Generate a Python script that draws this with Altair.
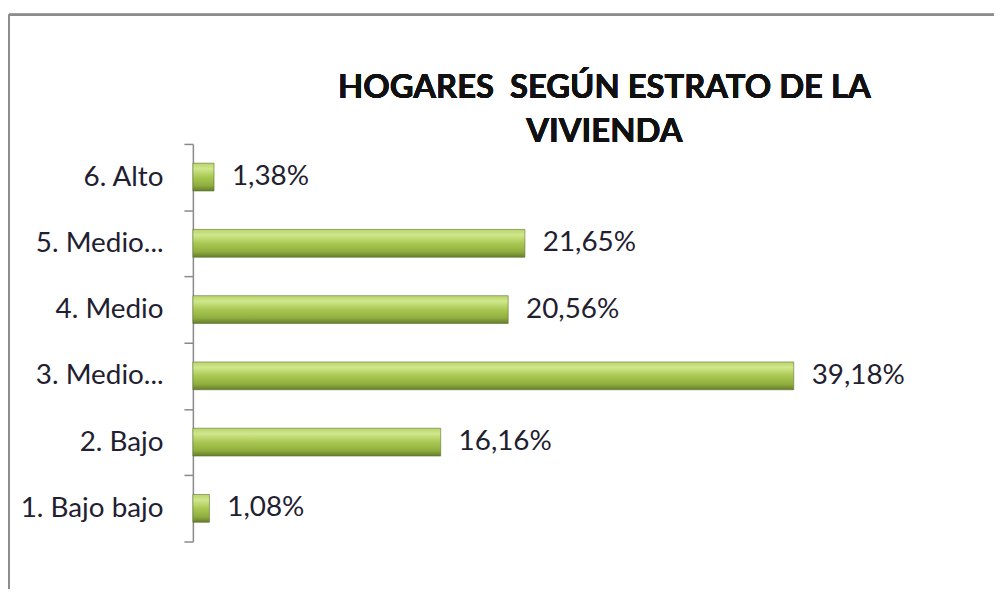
import altair as alt
import pandas as pd

categories = ["6. Alto", "5. Medio alto", "4. Medio", "3. Medio bajo", "2. Bajo", "1. Bajo bajo"]
values = [1.38, 21.65, 20.56, 39.18, 16.16, 1.08]
title_lines = ["HOGARES\u00a0 SEGÚN ESTRATO DE LA", "VIVIENDA"]

df = pd.DataFrame({
    "estrato": categories,
    "pct": values,
    "label": [f"{v:.2f}".replace(".", ",") + "%" for v in values],
})

FONT = "Lato"
W, H = 790, 400

green = alt.Gradient(
    gradient="linear", x1=0, y1=0, x2=0, y2=1,
    stops=[
        alt.GradientStop(color="#b9d46a", offset=0),
        alt.GradientStop(color="#d0e78c", offset=0.2),
        alt.GradientStop(color="#a9c852", offset=0.5),
        alt.GradientStop(color="#8fae3e", offset=0.8),
        alt.GradientStop(color="#647c2c", offset=1),
    ],
)

y_enc = alt.Y(
    "estrato:N", sort=categories, title=None,
    scale=alt.Scale(paddingInner=0, paddingOuter=0),
    axis=alt.Axis(
        domainColor="#8a8a8a", domainWidth=1.5, tickColor="#8a8a8a", tickWidth=1.5,
        tickSize=9, tickBand="extent", labelPadding=21, labelFont=FONT,
        labelFontSize=28, labelColor="#1f2030", labelLimit=300,
        labelExpr="indexof(datum.label, 'Medio ') >= 0 ? replace(datum.label, / \\w+$/, '...') : datum.label",
    ),
)
x_enc = alt.X("pct:Q", title=None, scale=alt.Scale(domain=[0, 51.2], nice=False), axis=None)

bars = alt.Chart(df).mark_bar(
    fill=green, stroke="#5e7330", strokeWidth=0.6, height=alt.RelativeBandSize(0.42)
).encode(y=y_enc, x=x_enc)
labels = alt.Chart(df).mark_text(
    align="left", baseline="middle", dx=18, font=FONT, fontSize=28, color="#1f2030"
).encode(y=alt.Y("estrato:N", sort=categories), x="pct:Q", text="label:N")

title_style = dict(align="center", baseline="middle", font=FONT, fontSize=33,
                   fontWeight="bold", color="#111111", clip=False)
title1 = alt.Chart(df).mark_text(text=title_lines[0], **title_style).encode(
    x=alt.value(414), y=alt.value(-56))
title2 = alt.Chart(df).mark_text(text=title_lines[1], **title_style).encode(
    x=alt.value(414), y=alt.value(-12))

frame_top = alt.Chart(df).mark_rule(color="#8c8c8c", strokeWidth=2, clip=False).encode(
    x=alt.value(-185), x2=alt.value(900), y=alt.value(-130)
)
frame_left = alt.Chart(df).mark_rule(color="#8c8c8c", strokeWidth=1.5, clip=False).encode(
    x=alt.value(-185), y=alt.value(-130), y2=alt.value(500)
)

chart = alt.layer(frame_top, frame_left, bars, labels, title1, title2).properties(
    width=W, height=H,
    background="white",
    autosize=alt.AutoSizeParams(type="none"),
    padding={"left": 186, "top": 135, "right": 16, "bottom": 46},
).configure_view(stroke="transparent", strokeWidth=0)

chart.save("out.html", embed_options={"renderer": "svg", "actions": False})
